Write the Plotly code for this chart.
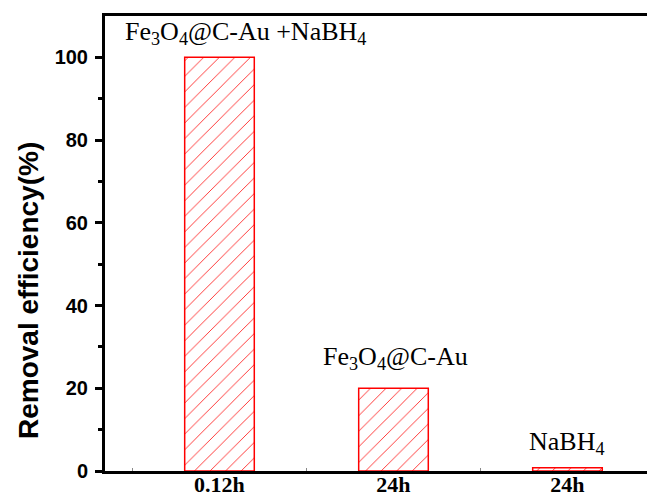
import plotly.graph_objects as go

categories = ["A", "B", "C"]
tick_labels = ["0.12h", "24h", "24h"]
removal = [100, 20, 0.8]
bar_labels = ["Fe<sub>3</sub>O<sub>4</sub>@C-Au +NaBH<sub>4</sub>",
              "Fe<sub>3</sub>O<sub>4</sub>@C-Au",
              "NaBH<sub>4</sub>"]
label_x = [0.15, 1.01, 2.0]
label_y = [106, 27.2, 6.7]
y_ticks = [0, 20, 40, 60, 80, 100]
y_minor = [10, 30, 50, 70, 90]

fig = go.Figure()
fig.add_trace(go.Bar(
    x=categories, y=removal, width=0.40,
    marker=dict(color="white",
                line=dict(color="#ff0000", width=1.5),
                pattern=dict(shape="/", fgcolor="#ff0000", bgcolor="white",
                             fgopacity=1, size=11, solidity=0.07)),
    showlegend=False,
))

for t, xx, yy in zip(bar_labels, label_x, label_y):
    fig.add_annotation(x=xx, y=yy, xref="x", yref="y", text=t, showarrow=False,
                       font=dict(family="Liberation Serif", size=26, color="black"),
                       xanchor="center", yanchor="middle")

fig.add_annotation(xref="paper", yref="paper",
                   x=(28 - 105) / (647 - 105), y=(471 - 291) / (471 - 16),
                   text="<b>Removal efficiency(%)</b>",
                   showarrow=False, textangle=-90,
                   font=dict(family="Liberation Sans", size=28, color="black"),
                   xanchor="center", yanchor="middle")

fig.update_layout(
    width=647, height=497,
    margin=dict(l=105, r=0, t=16, b=26),
    plot_bgcolor="white", paper_bgcolor="white",
    xaxis=dict(type="category", range=[-0.658, 2.457],
               tickvals=categories, ticktext=["<b>%s</b>" % s for s in tick_labels],
               tickson="boundaries", ticks="inside", ticklen=3, tickwidth=1, tickcolor="#888888",
               tickfont=dict(family="Liberation Serif", size=22, color="black"),
               ticklabelstandoff=-8,
               showline=True, linecolor="black", linewidth=3, mirror=True,
               showgrid=False, zeroline=False, automargin=False),
    yaxis=dict(range=[0, 110], tickvals=y_ticks,
               ticktext=["<b>%d</b>" % v for v in y_ticks],
               ticks="outside", ticklen=7, tickwidth=3, tickcolor="black",
               tickfont=dict(family="Liberation Sans", size=20, color="black"),
               ticklabelstandoff=3,
               minor=dict(tickvals=y_minor, ticks="outside", ticklen=4,
                          tickwidth=3, tickcolor="black", showgrid=False),
               showline=True, linecolor="black", linewidth=3,
               showgrid=False, zeroline=False, automargin=False),
)

fig.write_html("out.html", config={"displayModeBar": False},
               post_script="document.body.style.margin='0';document.body.style.overflow='hidden';")
